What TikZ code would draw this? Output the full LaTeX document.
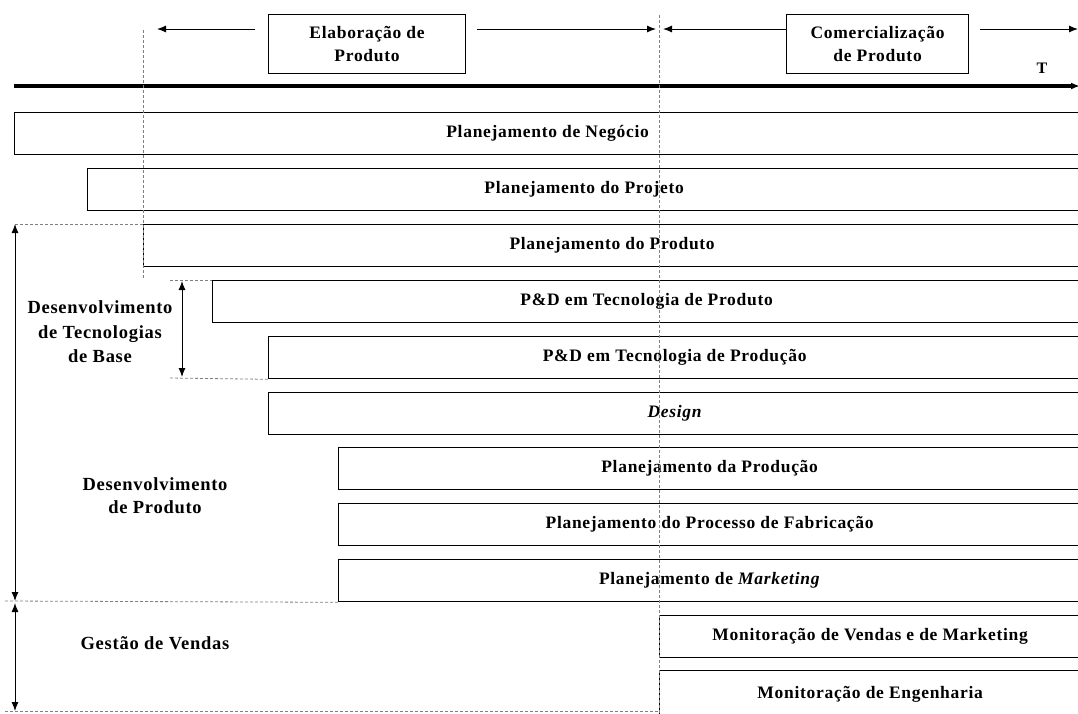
\documentclass[tikz,border=0pt]{standalone}
\usepackage{fontspec}
\setmainfont{Liberation Serif}[LetterSpace=4]
\usetikzlibrary{positioning, arrows.meta}

\tikzset{
  bar/.style={draw, line width=1.3pt, anchor=north west, minimum height=42pt,
    inner sep=0pt, font=\fontsize{17.5}{19}\selectfont\bfseries},
  phase/.style={draw, line width=1.1pt, anchor=north west, minimum height=59pt,
    inner sep=0pt, align=center, font=\fontsize{17.5}{23}\selectfont\bfseries},
  lbl/.style={align=center, font=\fontsize{18.5}{24.5}\selectfont\bfseries},
  guide/.style={gray, dash pattern=on 3pt off 2pt, line width=0.8pt},
}

\begin{document}
\begin{tikzpicture}[x=1pt, y=-1pt, >={Latex[length=9pt, width=7pt]}]
  \useasboundingbox (0,0) rectangle (1078,713);

  % Phases on top
  \node [phase, minimum width=197pt] (elab) at (268,14) {Elaboração de\\Produto};
  \node [phase, minimum width=182pt] (comerc) at (786,14) {Comercialização\\de Produto};
  \coordinate (elabL) at (255,29);
  \coordinate (elabLtip) at (157,29);
  \coordinate (elabR) at (477,29);
  \coordinate (elabRtip) at (656,29);
  \coordinate (comL) at (786,29);
  \coordinate (comLtip) at (663,29);
  \coordinate (comR) at (980,29);
  \coordinate (comRtip) at (1078,29);
  \draw [->, line width=1pt] (elabL) -- (elabLtip);
  \draw [->, line width=1pt] (elabR) -- (elabRtip);
  \draw [->, line width=1pt] (comL) -- (comLtip);
  \draw [->, line width=1pt] (comR) -- (comRtip);

  % Time axis
  \coordinate (t0) at (14,86);
  \coordinate (t1) at (1080,86);
  \draw [->, line width=3.5pt] (t0) -- (t1);
  \node [lbl, font=\fontsize{16}{18}\selectfont\bfseries] (T) at (1042,68) {T};

  % Activity bars
  \node [bar, minimum width=1066pt] (negocio) at (14,112) {Planejamento de Negócio};
  \node [bar, minimum width=993pt] (projeto) at (87,168) {Planejamento do Projeto};
  \node [bar, minimum width=937pt] (produto) at (143,224) {Planejamento do Produto};
  \node [bar, minimum width=868pt] (pdprod) at (212,280) {P\&D em Tecnologia de Produto};
  \node [bar, minimum width=812pt] (pdproc) at (268,336) {P\&D em Tecnologia de Produção};
  \node [bar, minimum width=812pt] (design) at (268,392) {\itshape Design};
  \node [bar, minimum width=742pt] (producao) at (338,447) {Planejamento da Produção};
  \node [bar, minimum width=742pt] (processo) at (338,503) {Planejamento do Processo de Fabricação};
  \node [bar, minimum width=742pt] (marketing) at (338,559) {Planejamento de \textit{Marketing}};
  \node [bar, minimum width=421pt] (vendas) at (659,615) {Monitoração de Vendas e de Marketing};
  \node [bar, minimum width=421pt, minimum height=48pt] (engenharia) at (659,670) {\raisebox{3pt}{Monitoração de Engenharia}};

  % Guide lines
  \coordinate (g1a) at (143,30);
  \coordinate (g1b) at (143,278);
  \coordinate (g2a) at (659,15);
  \coordinate (g2b) at (659,713);
  \draw [guide] (g1a) -- (g1b);
  \draw [guide] (g2a) -- (g2b);

  \coordinate (dpTop) at (15,224);
  \coordinate (dpBot) at (15,601);
  \coordinate (gvTop) at (15,603);
  \coordinate (gvBot) at (15,711);
  \coordinate (dtTop) at (182,281);
  \coordinate (dtBot) at (182,377);
  \coordinate (dtL1) at (170,280);
  \coordinate (dtL2) at (170,378);
  \coordinate (sepL) at (5,601);
  \coordinate (botL) at (5,711);
  \coordinate (botR) at (659,711);
  \draw [guide] (dpTop) -- (produto.north west);
  \draw [guide] (dtL1) -- (pdprod.north west);
  \draw [guide] (dtL2) -- (pdproc.south west);
  \draw [guide] (sepL) -- (marketing.south west);
  \draw [guide] (botL) -- (botR);

  % Side arrows and labels
  \draw [<->, line width=1pt] (dpTop) -- (dpBot);
  \draw [<->, line width=1pt] (gvTop) -- (gvBot);
  \draw [<->, line width=1pt] (dtTop) -- (dtBot);
  \node [lbl] (tecbase) at (100,332) {Desenvolvimento\\de Tecnologias\\de Base};
  \node [lbl, font=\fontsize{18.5}{23}\selectfont\bfseries] (desprod) at (155,496) {Desenvolvimento\\de Produto};
  \node [lbl] (gestao) at (155,643) {Gestão de Vendas};
\end{tikzpicture}
\end{document}
